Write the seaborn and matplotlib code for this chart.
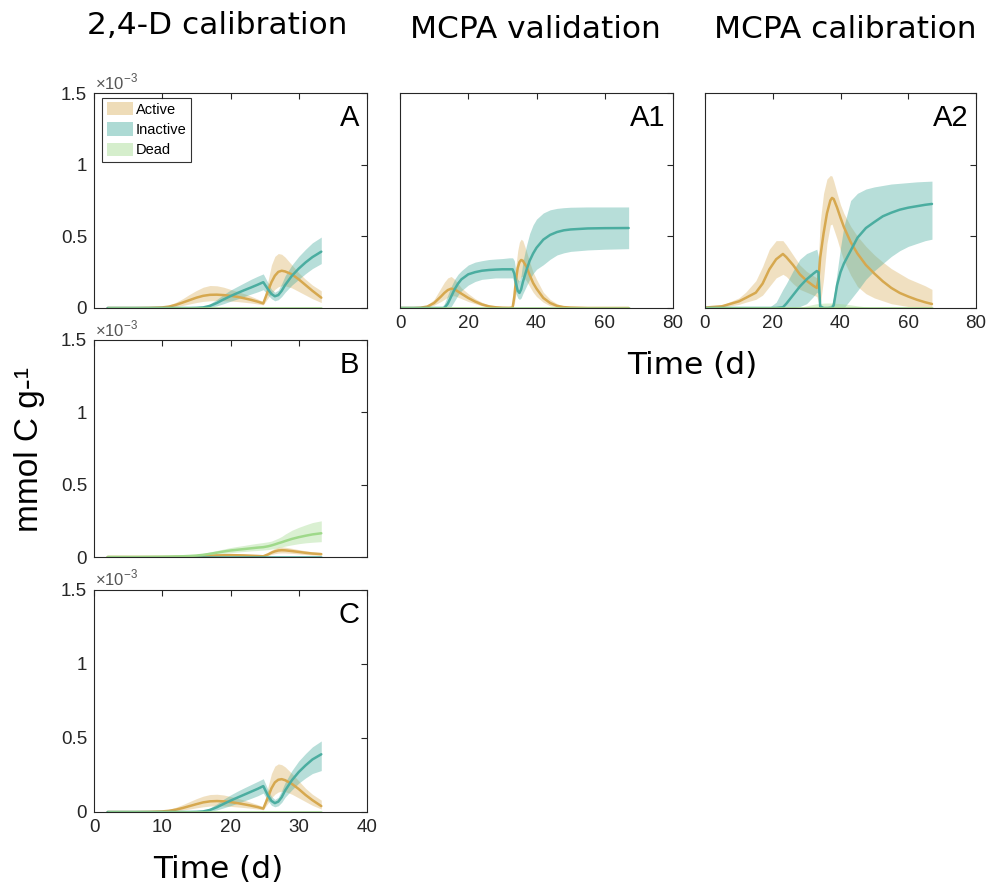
import matplotlib
matplotlib.use("Agg")
import matplotlib.pyplot as plt
from matplotlib.patches import Patch
import seaborn as sns
import pandas as pd

# ---------------- data (values in units of 1e-3 mmol C g-1) ----------------
# 2,4-D time grid (days)
t24 = [2, 4, 6, 8, 10, 11, 12, 13, 14, 15, 16, 17, 18, 19, 20, 21, 22, 23, 24, 24.8,
       25.5, 26, 26.5, 27, 27.5, 28, 29, 30, 31, 32, 33.3]
t24_flat = [2, 33.3]
flat24 = [0, 0]

# Panel A
A_act = [0, 0, 0, 0.001, 0.004, 0.01, 0.022, 0.038, 0.055, 0.072, 0.085, 0.092, 0.093, 0.09, 0.085,
         0.078, 0.068, 0.057, 0.044, 0.032, 0.12, 0.18, 0.225, 0.252, 0.26, 0.255, 0.235, 0.2, 0.16, 0.12, 0.072]
A_act_hi = [0, 0, 0.001, 0.003, 0.01, 0.02, 0.04, 0.065, 0.095, 0.122, 0.145, 0.157, 0.155, 0.145, 0.13,
            0.115, 0.1, 0.082, 0.062, 0.045, 0.19, 0.3, 0.36, 0.38, 0.375, 0.355, 0.3, 0.245, 0.2, 0.16, 0.12]
A_act_lo = [0, 0, 0, 0, 0.001, 0.004, 0.01, 0.018, 0.028, 0.038, 0.046, 0.05, 0.052, 0.05, 0.048,
            0.045, 0.04, 0.035, 0.028, 0.022, 0.07, 0.1, 0.13, 0.148, 0.155, 0.155, 0.14, 0.115, 0.09, 0.065, 0.038]
A_ina = [0, 0, 0, 0, 0, 0, 0, 0, 0, 0.001, 0.004, 0.015, 0.035, 0.06, 0.083,
         0.104, 0.124, 0.143, 0.163, 0.18, 0.13, 0.098, 0.082, 0.09, 0.12, 0.16, 0.225, 0.275, 0.318, 0.355, 0.393]
A_ina_hi = [0, 0, 0, 0, 0, 0, 0, 0, 0, 0.002, 0.008, 0.03, 0.06, 0.095, 0.125,
            0.15, 0.175, 0.2, 0.222, 0.238, 0.175, 0.13, 0.11, 0.125, 0.17, 0.225, 0.3, 0.36, 0.41, 0.455, 0.495]
A_ina_lo = [0, 0, 0, 0, 0, 0, 0, 0, 0, 0, 0.001, 0.005, 0.015, 0.03, 0.047,
            0.063, 0.08, 0.097, 0.113, 0.128, 0.09, 0.065, 0.05, 0.058, 0.08, 0.11, 0.16, 0.2, 0.24, 0.275, 0.31]

# Panel B
B_act = [0, 0, 0, 0, 0, 0, 0.001, 0.002, 0.003, 0.005, 0.007, 0.009, 0.011, 0.012, 0.013,
         0.012, 0.011, 0.009, 0.007, 0.005, 0.018, 0.03, 0.039, 0.045, 0.047, 0.046, 0.041, 0.035, 0.029, 0.024, 0.02]
B_act_hi = [0, 0, 0, 0, 0, 0, 0.002, 0.003, 0.005, 0.008, 0.011, 0.014, 0.017, 0.019, 0.02,
            0.019, 0.017, 0.014, 0.011, 0.008, 0.028, 0.047, 0.06, 0.068, 0.07, 0.068, 0.06, 0.051, 0.043, 0.036, 0.03]
B_act_lo = [0, 0, 0, 0, 0, 0, 0, 0.001, 0.002, 0.003, 0.004, 0.005, 0.006, 0.007, 0.008,
            0.007, 0.006, 0.005, 0.004, 0.003, 0.01, 0.018, 0.023, 0.027, 0.028, 0.028, 0.025, 0.021, 0.017, 0.014, 0.012]
B_dead = [0, 0, 0, 0.001, 0.002, 0.003, 0.004, 0.005, 0.007, 0.01, 0.015, 0.022, 0.03, 0.038, 0.045,
          0.05, 0.055, 0.06, 0.065, 0.068, 0.074, 0.08, 0.087, 0.095, 0.102, 0.11, 0.125, 0.137, 0.147, 0.156, 0.164]
B_dead_hi = [0, 0, 0.001, 0.002, 0.004, 0.005, 0.007, 0.009, 0.012, 0.017, 0.025, 0.035, 0.045, 0.055, 0.065,
             0.073, 0.08, 0.088, 0.095, 0.1, 0.105, 0.11, 0.12, 0.13, 0.142, 0.158, 0.185, 0.205, 0.222, 0.238, 0.25]
B_dead_lo = [0, 0, 0, 0, 0.001, 0.001, 0.002, 0.002, 0.003, 0.005, 0.008, 0.012, 0.018, 0.024, 0.03,
             0.034, 0.038, 0.042, 0.045, 0.048, 0.051, 0.055, 0.06, 0.065, 0.07, 0.075, 0.084, 0.092, 0.098, 0.102, 0.106]

# Panel C
C_act = [0, 0, 0, 0.001, 0.004, 0.008, 0.016, 0.027, 0.04, 0.053, 0.065, 0.072, 0.074, 0.072, 0.067,
         0.06, 0.052, 0.043, 0.033, 0.023, 0.1, 0.16, 0.2, 0.218, 0.222, 0.215, 0.19, 0.155, 0.115, 0.08, 0.04]
C_act_hi = [0, 0, 0.001, 0.003, 0.01, 0.018, 0.032, 0.05, 0.07, 0.09, 0.107, 0.118, 0.12, 0.115, 0.105,
            0.093, 0.08, 0.065, 0.05, 0.035, 0.17, 0.26, 0.31, 0.325, 0.32, 0.305, 0.26, 0.21, 0.16, 0.12, 0.08]
C_act_lo = [0, 0, 0, 0, 0.001, 0.003, 0.007, 0.013, 0.02, 0.028, 0.035, 0.04, 0.042, 0.041, 0.038,
            0.034, 0.03, 0.025, 0.02, 0.015, 0.06, 0.095, 0.12, 0.135, 0.14, 0.138, 0.12, 0.095, 0.07, 0.045, 0.02]
C_ina = [0, 0, 0, 0, 0, 0, 0, 0, 0, 0.001, 0.004, 0.014, 0.032, 0.055, 0.077,
         0.097, 0.117, 0.137, 0.157, 0.175, 0.11, 0.075, 0.06, 0.07, 0.1, 0.145, 0.215, 0.27, 0.315, 0.355, 0.39]
C_ina_hi = [0, 0, 0, 0, 0, 0, 0, 0, 0, 0.002, 0.008, 0.028, 0.055, 0.087, 0.115,
            0.14, 0.163, 0.185, 0.207, 0.225, 0.15, 0.105, 0.085, 0.1, 0.145, 0.2, 0.28, 0.345, 0.395, 0.44, 0.48]
C_ina_lo = [0, 0, 0, 0, 0, 0, 0, 0, 0, 0, 0.001, 0.005, 0.014, 0.028, 0.043,
            0.058, 0.075, 0.092, 0.11, 0.128, 0.075, 0.045, 0.035, 0.042, 0.065, 0.1, 0.15, 0.195, 0.23, 0.26, 0.28]

# MCPA validation (A1)
tA1 = [0, 4, 6, 8, 10, 12, 13, 14, 15, 16, 17, 18, 20, 22, 24, 26, 28, 30, 32, 33,
       33.5, 34, 34.5, 35, 35.5, 36, 37, 38, 39, 40, 42, 44, 46, 48, 50, 55, 60, 67]
tMC_flat = [0, 67]
flatMC = [0, 0]
A1_act = [0, 0, 0.002, 0.01, 0.035, 0.08, 0.105, 0.125, 0.135, 0.13, 0.115, 0.1, 0.07, 0.045, 0.025,
          0.012, 0.005, 0.002, 0.001, 0.003, 0.08, 0.2, 0.28, 0.32, 0.335, 0.33, 0.29, 0.23, 0.175, 0.135,
          0.07, 0.035, 0.015, 0.006, 0.003, 0, 0, 0]
A1_act_hi = [0, 0, 0.005, 0.02, 0.06, 0.14, 0.18, 0.21, 0.22, 0.2, 0.17, 0.14, 0.1, 0.065, 0.04,
             0.02, 0.008, 0.003, 0.002, 0.005, 0.15, 0.3, 0.4, 0.46, 0.48, 0.47, 0.4, 0.32, 0.25, 0.2,
             0.11, 0.06, 0.03, 0.012, 0.005, 0, 0, 0]
A1_act_lo = [0, 0, 0, 0.005, 0.02, 0.045, 0.06, 0.075, 0.085, 0.085, 0.075, 0.065, 0.045, 0.03, 0.015,
             0.007, 0.002, 0, 0, 0.001, 0.03, 0.1, 0.17, 0.2, 0.22, 0.22, 0.19, 0.15, 0.11, 0.08,
             0.04, 0.015, 0.006, 0.002, 0, 0, 0, 0]
A1_ina = [0, 0, 0, 0, 0, 0, 0, 0.03, 0.08, 0.13, 0.17, 0.2, 0.235, 0.25, 0.26,
          0.265, 0.268, 0.27, 0.27, 0.27, 0.24, 0.17, 0.12, 0.105, 0.13, 0.18, 0.26, 0.33, 0.38, 0.42,
          0.477, 0.51, 0.53, 0.542, 0.548, 0.555, 0.557, 0.558]
A1_ina_hi = [0, 0, 0, 0, 0, 0, 0.03, 0.09, 0.15, 0.2, 0.235, 0.26, 0.3, 0.32, 0.33,
             0.338, 0.342, 0.345, 0.35, 0.35, 0.33, 0.25, 0.2, 0.19, 0.23, 0.32, 0.43, 0.52, 0.58, 0.62,
             0.663, 0.685, 0.695, 0.7, 0.703, 0.705, 0.705, 0.705]
A1_ina_lo = [0, 0, 0, 0, 0, 0, 0, 0, 0.01, 0.05, 0.09, 0.12, 0.16, 0.185, 0.2,
             0.205, 0.21, 0.21, 0.21, 0.21, 0.17, 0.1, 0.07, 0.06, 0.07, 0.1, 0.15, 0.2, 0.24, 0.27,
             0.302, 0.34, 0.37, 0.385, 0.395, 0.405, 0.41, 0.414]

# MCPA calibration (A2)
tA2 = [0, 5, 10, 12, 15, 17, 19, 21, 23, 24, 26, 28, 30, 32, 33, 33.5, 34, 35, 36, 37,
       37.5, 38, 39, 40, 41, 43, 45, 47.5, 50, 52.5, 55, 57.5, 60, 62.5, 65, 67]
A2_act = [0.003, 0.012, 0.046, 0.07, 0.107, 0.17, 0.27, 0.34, 0.377, 0.355, 0.3, 0.235, 0.19, 0.155, 0.14,
          0.2, 0.35, 0.52, 0.66, 0.75, 0.768, 0.76, 0.7, 0.63, 0.565, 0.46, 0.38, 0.3, 0.24, 0.186,
          0.14, 0.105, 0.08, 0.058, 0.04, 0.028]
A2_act_hi = [0.005, 0.02, 0.07, 0.11, 0.19, 0.29, 0.41, 0.47, 0.47, 0.44, 0.37, 0.3, 0.255, 0.225, 0.21,
             0.35, 0.6, 0.8, 0.9, 0.925, 0.92, 0.885, 0.8, 0.72, 0.66, 0.57, 0.5, 0.43, 0.37, 0.32,
             0.275, 0.24, 0.205, 0.18, 0.155, 0.13]
A2_act_lo = [0.001, 0.005, 0.025, 0.04, 0.06, 0.09, 0.15, 0.21, 0.235, 0.22, 0.17, 0.13, 0.11, 0.09, 0.08,
             0.04, 0.02, 0.2, 0.45, 0.58, 0.585, 0.55, 0.48, 0.4, 0.33, 0.23, 0.15, 0.1, 0.07, 0.05,
             0.03, 0.02, 0.01, 0.006, 0.003, 0.002]
A2_ina = [0, 0, 0, 0, 0, 0, 0, 0, 0.005, 0.03, 0.09, 0.15, 0.2, 0.24, 0.258,
          0.25, 0.01, 0, 0, 0, 0, 0.02, 0.16, 0.25, 0.31, 0.4, 0.49, 0.558, 0.6, 0.64,
          0.665, 0.686, 0.7, 0.71, 0.72, 0.726]
A2_ina_hi = [0, 0, 0, 0, 0, 0, 0.005, 0.04, 0.13, 0.17, 0.26, 0.34, 0.38, 0.4, 0.41,
             0.36, 0.03, 0.01, 0.01, 0.02, 0.03, 0.08, 0.25, 0.42, 0.57, 0.75, 0.8, 0.83, 0.845, 0.855,
             0.865, 0.87, 0.875, 0.88, 0.883, 0.885]
A2_ina_lo = [0, 0, 0, 0, 0, 0, 0, 0, 0, 0, 0, 0.01, 0.03, 0.08, 0.11,
             0.1, 0, 0, 0, 0, 0, 0, 0, 0, 0, 0.06, 0.12, 0.2, 0.26, 0.31,
             0.36, 0.4, 0.43, 0.45, 0.47, 0.48]
A2_dead = [0, 0, 0, 0, 0, 0, 0, 0, 0, 0, 0, 0, 0, 0, 0,
           0, 0, 0, 0, 0, 0, 0, 0, 0, 0, 0, 0, 0, 0, 0,
           0, 0, 0, 0, 0, 0]
A2_dead_hi = [0, 0, 0, 0, 0, 0, 0, 0, 0, 0, 0, 0.005, 0.015, 0.025, 0.03,
              0.03, 0.032, 0.034, 0.035, 0.035, 0.035, 0.034, 0.032, 0.03, 0.028, 0.022, 0.015, 0.008, 0.003, 0,
              0, 0, 0, 0, 0, 0]

series_names = ["Active", "Inactive", "Dead"]
panel_titles = ["2,4-D calibration", "MCPA validation", "MCPA calibration"]
y_ticks = [0, 0.5, 1, 1.5]
y_ticklabels = ["0", "0.5", "1", "1.5"]
x_ticks_24 = [0, 10, 20, 30, 40]
x_ticks_mc = [0, 20, 40, 60, 80]

# ---------------- style ----------------
sns.set_theme(style="white")
plt.rcParams["font.family"] = ["Liberation Sans", "DejaVu Sans"]
plt.rcParams["mathtext.fontset"] = "custom"
plt.rcParams["mathtext.rm"] = "Liberation Sans"

line_col = {"Active": "#D6A84F", "Inactive": "#4BADA0", "Dead": "#9FD98A"}
band_alpha = {"Active": 0.35, "Inactive": 0.4, "Dead": 0.38}
axis_col = "#262626"

W, H = 989, 894
fig = plt.figure(figsize=(W / 100, H / 100), dpi=100)


def add_ax(x0, y0, x1, y1):
    return fig.add_axes([x0 / W, 1 - y1 / H, (x1 - x0) / W, (y1 - y0) / H])


axA = add_ax(94, 93, 367, 308)
axB = add_ax(94, 340, 367, 557)
axC = add_ax(94, 590, 367, 812)
axA1 = add_ax(400, 93, 673, 308)
axA2 = add_ax(705, 93, 976, 308)

panels = {
    axA: [(t24, A_act, A_act_lo, A_act_hi, "Active"), (t24, A_ina, A_ina_lo, A_ina_hi, "Inactive"),
          (t24_flat, flat24, None, None, "Dead")],
    axB: [(t24, B_act, B_act_lo, B_act_hi, "Active"), (t24_flat, flat24, None, None, "Inactive"),
          (t24, B_dead, B_dead_lo, B_dead_hi, "Dead")],
    axC: [(t24, C_act, C_act_lo, C_act_hi, "Active"), (t24, C_ina, C_ina_lo, C_ina_hi, "Inactive"),
          (t24_flat, flat24, None, None, "Dead")],
    axA1: [(tA1, A1_act, A1_act_lo, A1_act_hi, "Active"), (tA1, A1_ina, A1_ina_lo, A1_ina_hi, "Inactive"),
           (tMC_flat, flatMC, None, None, "Dead")],
    axA2: [(tA2, A2_act, A2_act_lo, A2_act_hi, "Active"), (tA2, A2_ina, A2_ina_lo, A2_ina_hi, "Inactive"),
           (tA2, A2_dead, A2_dead, A2_dead_hi, "Dead")],
}

for ax, series in panels.items():
    # bands first, then lines
    for t, m, lo, hi, name in series:
        if lo is not None:
            ax.fill_between(t, lo, hi, color=line_col[name], alpha=band_alpha[name], linewidth=0)
    for t, m, lo, hi, name in series:
        df = pd.DataFrame({"t": t, "v": m})
        sns.lineplot(data=df, x="t", y="v", ax=ax, color=line_col[name], linewidth=1.8, legend=False)

letters = {axA: "A", axB: "B", axC: "C", axA1: "A1", axA2: "A2"}
for ax in panels:
    ax.set_ylim(0, 1.5)
    ax.set_yticks(y_ticks)
    ax.set_xlabel("")
    ax.set_ylabel("")
    for s in ax.spines.values():
        s.set_visible(True)
        s.set_color(axis_col)
        s.set_linewidth(0.8)
    ax.tick_params(direction="in", top=True, right=True, length=4, width=0.8,
                   colors=axis_col, labelsize=13.5, pad=5)
    ax.text(0.972, 0.95, letters[ax], transform=ax.transAxes, ha="right", va="top",
            fontsize=21, color="black")

for ax in (axA, axB, axC):
    ax.set_xlim(0, 40)
    ax.set_xticks(x_ticks_24)
    ax.set_yticklabels(y_ticklabels)
    ax.text(0.005, 1.005, "\u00d710$^{-3}$", transform=ax.transAxes, ha="left", va="bottom",
            fontsize=12, color="#555555")
for ax in (axA, axB):
    ax.set_xticklabels([])
axC.set_xticklabels([str(v) for v in x_ticks_24])
for ax in (axA1, axA2):
    ax.set_xlim(0, 80)
    ax.set_xticks(x_ticks_mc)
    ax.set_xticklabels([str(v) for v in x_ticks_mc])
    ax.set_yticklabels([])

# legend
handles = [Patch(facecolor=line_col[n], alpha=band_alpha[n] + 0.05, edgecolor="none", label=n)
           for n in series_names]
leg = axA.legend(handles=handles, loc="upper left", bbox_to_anchor=(0.03, 0.978), borderaxespad=0,
                 frameon=True, fancybox=False, edgecolor="black", fontsize=10.5,
                 handlelength=1.8, handleheight=1.0, labelspacing=0.4, handletextpad=0.2,
                 borderpad=0.3)
leg.get_frame().set_linewidth(0.8)
for txt in leg.get_texts():
    txt.set_color("black")

# titles and labels
title_font = ["DejaVu Sans"]
fig.text(217 / W, 1 - 25 / H, panel_titles[0], ha="center", va="center", fontsize=22.5,
         family=title_font, color="black")
fig.text(535 / W, 1 - 30 / H, panel_titles[1], ha="center", va="center", fontsize=22.5,
         family=title_font, color="black")
fig.text(845 / W, 1 - 30 / H, panel_titles[2], ha="center", va="center", fontsize=22.5,
         family=title_font, color="black")
fig.text(692 / W, 1 - 366 / H, "Time (d)", ha="center", va="center", fontsize=22.5,
         family=title_font, color="black")
fig.text(218 / W, 1 - 870 / H, "Time (d)", ha="center", va="center", fontsize=22.5,
         family=title_font, color="black")
fig.text(30 / W, 1 - 449 / H, "mmol C g-\u00b9", ha="center", va="center", rotation=90,
         fontsize=24, color="black")

fig.savefig("out.png", dpi=100)
